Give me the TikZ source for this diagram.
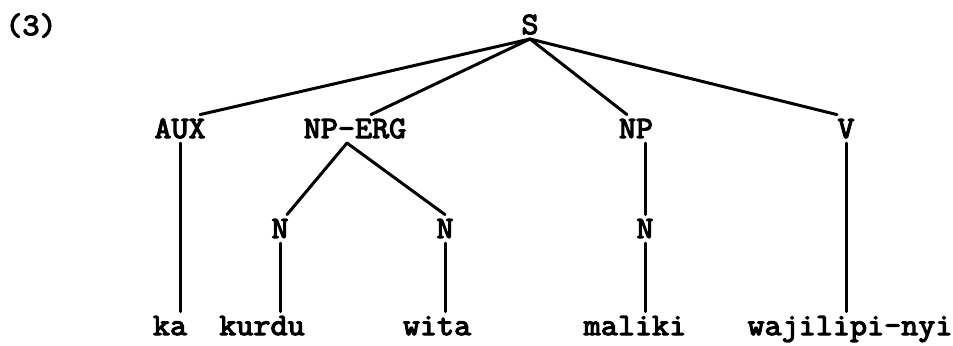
\documentclass[tikz,border=0pt]{standalone}
\usepackage{fontspec}
\newfontfamily\treefont{Latin Modern Mono}[FakeBold=4, FakeStretch=1.07]
\usetikzlibrary{positioning}
\tikzset{
  every picture/.style={line width=1.5pt, line cap=round, line join=round},
  every node/.style={font=\fontsize{15.5}{18}\selectfont\treefont},
  % Kategorien und Wörter
  cat/.style={inner sep=0pt, outer sep=2.5pt, anchor=base, text height=9.2pt, text depth=0pt},
  word/.style={cat},
}
\begin{document}
\begin{tikzpicture}[x=0.5pt, y=-0.5pt]
  \useasboundingbox (0,0) rectangle (953,345);
  \node[cat] (num) at (31,35) {(3)};
  % Wurzel und Tochterknoten
  \node[cat] (S) at (530,34) {S};
  \node[cat] (AUX) at (180,138) {AUX};
  \node[cat] (NPERG) at (355,138) {NP-ERG};
  \node[cat] (NP) at (636,138) {NP};
  \node[cat] (V) at (846,138) {V};
  \node[cat] (N1) at (280,238) {N};
  \node[cat] (N2) at (445,238) {N};
  \node[cat] (N3) at (645,238) {N};
  % Wörter
  \node[word] (ka) at (170,335) {ka};
  \node[word] (kurdu) at (262,335) {kurdu};
  \node[word] (wita) at (437,335) {wita};
  \node[word] (maliki) at (635,335) {maliki};
  \node[word] (wajilipi) at (850,335) {wajilipi-nyi};
  % Äste
  \draw (S.south) -- ([xshift=10pt]AUX.north);
  \draw (S.south) -- ([xshift=8pt]NPERG.north);
  \draw (S.south) -- ([xshift=-4.5pt]NP.north);
  \draw (S.south) -- ([xshift=-4.5pt]V.north);
  \draw ([xshift=-4pt]NPERG.south) -- ([xshift=3.5pt]N1.north);
  \draw ([xshift=-4pt]NPERG.south) -- (N2.north);
  \draw (NP.south -| N3) -- (N3.north);
  \draw (AUX.south) -- (AUX.south |- ka.north);
  \draw (N1.south) -- (N1.south |- kurdu.north);
  \draw (N2.south) -- (N2.south |- wita.north);
  \draw (N3.south) -- (N3.south |- maliki.north);
  \draw (V.south) -- (V.south |- wajilipi.north);
\end{tikzpicture}
\end{document}
